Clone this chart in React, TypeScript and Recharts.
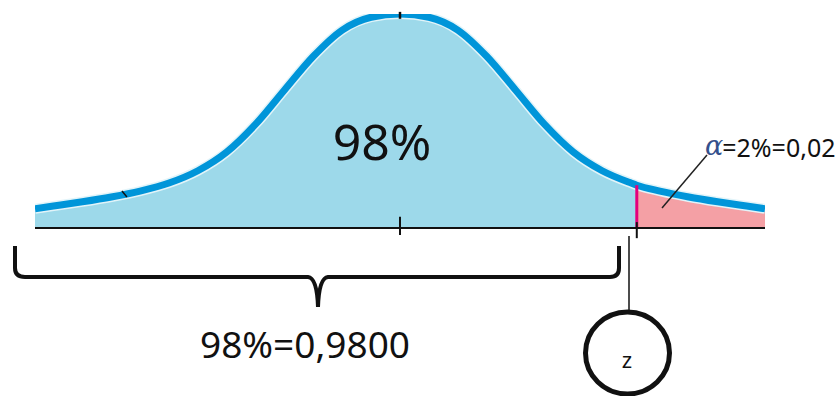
import { ComposedChart, Area, Line, XAxis, YAxis, ReferenceLine } from 'recharts';

// z values along the axis and the curve height
const zValues = [
  -3.16, -3, -2.75, -2.5, -2.25, -2, -1.75, -1.5, -1.25, -1, -0.75, -0.5, -0.25, 0,
  0.25, 0.5, 0.75, 1, 1.25, 1.5, 1.75, 2, 2.05, 2.25, 2.5, 2.75, 3, 3.16,
];
const densityValues = [
  0.036, 0.041, 0.049, 0.058, 0.069, 0.084, 0.107, 0.142, 0.194, 0.258, 0.321, 0.37, 0.394, 0.4,
  0.394, 0.37, 0.321, 0.258, 0.194, 0.142, 0.107, 0.084, 0.08, 0.069, 0.058, 0.049, 0.041, 0.036,
];
const zCritical = 2.05;
const centerLabel = '98%';
const confidenceLabel = '98%=0,9800';
const alphaSymbol = 'α';
const alphaLabel = '=2%=0,02';
const zLabel = 'z';

const data = zValues.map((z, i) => ({
  z,
  curve: densityValues[i],
  body: z <= zCritical ? densityValues[i] : null,
  tail: z >= zCritical ? densityValues[i] : null,
}));

const criticalHeight = densityValues[zValues.indexOf(zCritical)];

const App = () => {
  return (
    <div
      style={{
        position: 'absolute',
        left: 0,
        top: 0,
        width: 840,
        height: 396,
        background: '#fff',
        fontFamily: '"Noto Sans", sans-serif',
        overflow: 'hidden',
      }}
    >
      <ComposedChart
        width={840}
        height={396}
        data={data}
        margin={{ top: 14, right: 75, bottom: 138, left: 35 }}
      >
        <XAxis
          type="number"
          dataKey="z"
          domain={[-3.16, 3.16]}
          allowDataOverflow
          height={30}
          tick={false}
          tickLine={false}
          axisLine={{ stroke: '#111', strokeWidth: 2 }}
        />
        <YAxis hide domain={[0, 0.4]} allowDataOverflow />
        <Area
          type="monotone"
          dataKey="body"
          fill="#9DD9EA"
          fillOpacity={1}
          stroke="none"
          isAnimationActive={false}
        />
        <Area
          type="monotone"
          dataKey="tail"
          fill="#F4A0A5"
          fillOpacity={1}
          stroke="none"
          isAnimationActive={false}
        />
        <Line
          type="monotone"
          dataKey="curve"
          stroke="#E2F4F9"
          strokeWidth={10}
          dot={false}
          activeDot={false}
          isAnimationActive={false}
        />
        <Line
          type="monotone"
          dataKey="curve"
          stroke="#0095D9"
          strokeWidth={7}
          dot={false}
          activeDot={false}
          isAnimationActive={false}
        />
        <ReferenceLine
          segment={[{ x: zCritical, y: 0 }, { x: zCritical, y: criticalHeight }]}
          stroke="#E4007C"
          strokeWidth={3}
          ifOverflow="visible"
        />
        <ReferenceLine
          segment={[{ x: 0, y: -0.013 }, { x: 0, y: 0.021 }]}
          stroke="#111"
          strokeWidth={2}
          ifOverflow="visible"
        />
        <ReferenceLine
          segment={[{ x: zCritical, y: -0.019 }, { x: zCritical, y: 0.011 }]}
          stroke="#111"
          strokeWidth={2}
          ifOverflow="visible"
        />
        <ReferenceLine
          segment={[{ x: 0, y: 0.391 }, { x: 0, y: 0.404 }]}
          stroke="#111"
          strokeWidth={2.5}
          ifOverflow="visible"
        />
        <ReferenceLine
          segment={[{ x: -2.407, y: 0.069 }, { x: -2.364, y: 0.058 }]}
          stroke="#111"
          strokeWidth={1.5}
          ifOverflow="visible"
        />
      </ComposedChart>

      <svg
        width={840}
        height={396}
        style={{ position: 'absolute', left: 0, top: 0, pointerEvents: 'none' }}
      >
        <text x={382} y={160} textAnchor="middle" fontSize={50} fill="#111">
          {centerLabel}
        </text>

        {/* alpha annotation */}
        <line x1={707} y1={155} x2={662} y2={208} stroke="#222" strokeWidth={1.5} />
        <text x={705} y={157} fontSize={25} fill="#111">
          <tspan
            fontSize={27}
            fontStyle="italic"
            fontFamily='"DejaVu Serif", serif'
            fill="#34508C"
            dy={-2}
          >
            {alphaSymbol}
          </tspan>
          <tspan dx={-1} dy={2}>
            {alphaLabel}
          </tspan>
        </text>

        {/* brace under the 98% region */}
        <path
          d="M15,246 L15,268 Q15,277 25,277 L308,277 Q317,278 318,307 Q319,278 328,277 L610,277 Q619,277 619,268 L619,246"
          fill="none"
          stroke="#111"
          strokeWidth={4}
        />
        <text x={305} y={358} textAnchor="middle" fontSize={37} fill="#111">
          {confidenceLabel}
        </text>

        {/* z marker */}
        <line x1={629} y1={236} x2={629} y2={312} stroke="#111" strokeWidth={1.5} />
        <ellipse cx={627.5} cy={353} rx={42} ry={41} fill="none" stroke="#111" strokeWidth={5} />
        <text x={627} y={368} textAnchor="middle" fontSize={22} fill="#111">
          {zLabel}
        </text>
      </svg>
    </div>
  );
};

export default App;
